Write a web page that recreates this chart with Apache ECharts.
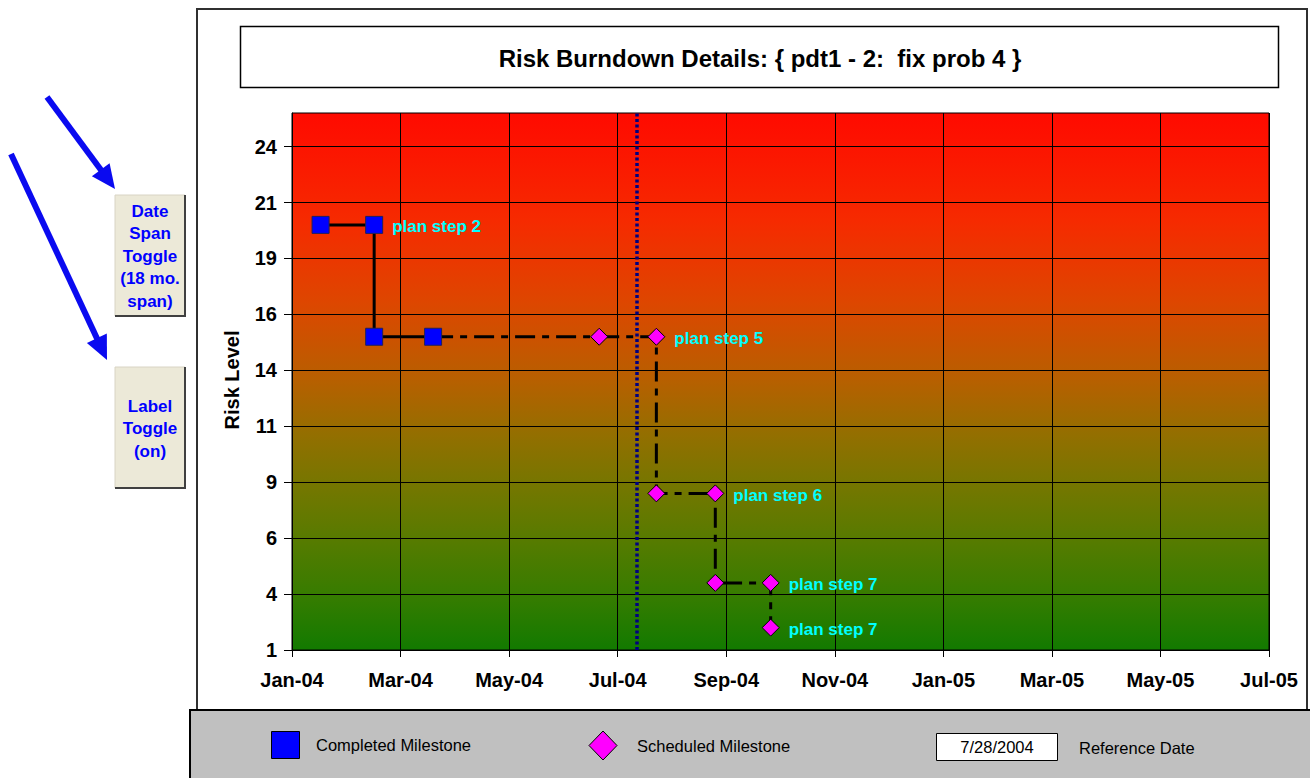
<!DOCTYPE html>
<html><head><meta charset="utf-8">
<script src="https://cdn.jsdelivr.net/npm/echarts@6/dist/echarts.min.js"></script>
<style>html,body{margin:0;padding:0;background:#fff;}#c{width:1310px;height:778px;}</style>
</head><body><div id="c"></div>
<script>
// ---------- data ----------
const completedDates  = ['2004-01-17','2004-02-16','2004-02-16','2004-03-20'];
const completedValues = [20, 20, 15, 15];
const completedLabels = ['', 'plan step 2', '', ''];

const linkDates  = ['2004-03-20','2004-06-21'];
const linkValues = [15, 15];

const scheduledDates  = ['2004-06-21','2004-07-23','2004-07-23','2004-08-25','2004-08-25','2004-09-25','2004-09-25'];
const scheduledValues = [15, 15, 8, 8, 4, 4, 2];
const scheduledLabels = ['', 'plan step 5', '', 'plan step 6', '', 'plan step 7', 'plan step 7'];

const referenceLineDate = '2004-07-12';
const referenceDateText = '7/28/2004';

const xStart = '2004-01-01', xEnd = '2005-07-01';
const xTickLabels = ['Jan-04','Mar-04','May-04','Jul-04','Sep-04','Nov-04','Jan-05','Mar-05','May-05','Jul-05'];

const yMin = 1, yMax = 25;
const yTickValues = [1, 3.5, 6, 8.5, 11, 13.5, 16, 18.5, 21, 23.5];
const yTickLabels = ['1','4','6','9','11','14','16','19','21','24'];

const titleText = 'Risk Burndown Details: { pdt1 - 2:  fix prob 4 }';
const yAxisTitle = 'Risk Level';
const button1Lines = ['Date','Span','Toggle','(18 mo.','span)'];
const button2Lines = ['Label','Toggle','(on)'];
const legendCompleted = 'Completed Milestone';
const legendScheduled = 'Scheduled Milestone';
const legendRefDate = 'Reference Date';

// ---------- helpers ----------
const ts = s => Date.parse(s + 'T00:00:00Z');
const t0 = ts(xStart), t1 = ts(xEnd);
const nX = xTickLabels.length - 1;
const xTickValues = xTickLabels.map((_, i) => t0 + (i * (t1 - t0)) / nX);
const pairs = (d, v) => d.map((s, i) => [ts(s), v[i]]);
const FONT = '"Liberation Sans", Arial, sans-serif';
const NARROW = '"Liberation Sans Narrow", "Arial Narrow", "Liberation Sans", sans-serif';

function nearestIdx(arr, v) {
  let b = 0, bd = Infinity;
  arr.forEach((a, i) => { const d = Math.abs(a - v); if (d < bd) { bd = d; b = i; } });
  return b;
}

function arrow(x0, y0, x1, y1, color) {
  const dx = x1 - x0, dy = y1 - y0, L = Math.hypot(dx, dy);
  const ux = dx / L, uy = dy / L, px = -uy, py = ux;
  const hl = 24, hw = 11;
  const bx = x1 - ux * hl, by = y1 - uy * hl;
  return [
    { type: 'line', shape: { x1: x0, y1: y0, x2: bx + ux * 2, y2: by + uy * 2 }, style: { stroke: color, lineWidth: 6 } },
    { type: 'polygon', shape: { points: [[x1, y1], [bx + px * hw, by + py * hw], [bx - px * hw, by - py * hw]] }, style: { fill: color } }
  ];
}

function button(x, y, w, h, lines, firstY, lh) {
  const els = [
    { type: 'rect', shape: { x: x, y: y, width: w, height: h }, style: { fill: '#ECE9D8', stroke: '#D8D4C4', lineWidth: 1 } },
    { type: 'polyline', shape: { points: [[x + w, y], [x + w, y + h], [x, y + h]] }, style: { stroke: '#404040', lineWidth: 2, fill: null } }
  ];
  lines.forEach((t, i) => els.push({
    type: 'text', x: x + w / 2, y: firstY + i * lh,
    style: { text: t, fill: '#0000FF', font: 'bold 17px ' + FONT, align: 'center', verticalAlign: 'middle' }
  }));
  return els;
}

const bgGradient = new echarts.graphic.LinearGradient(0, 0, 0, 1, [
  { offset: 0,    color: '#FF0A00' },
  { offset: 0.2,  color: '#F62A00' },
  { offset: 0.35, color: '#DE4600' },
  { offset: 0.5,  color: '#B66000' },
  { offset: 0.6,  color: '#936F00' },
  { offset: 0.7,  color: '#737700' },
  { offset: 0.8,  color: '#557B00' },
  { offset: 0.9,  color: '#367C00' },
  { offset: 1,    color: '#127A00' }
]);

const labelStyle = {
  show: true, position: 'right', distance: 9, offset: [0, 2], color: '#00FFFF',
  fontWeight: 'bold', fontSize: 17, fontFamily: FONT
};

const graphics = [
  // outer chart box
  { type: 'rect', z: -5, shape: { x: 197, y: 9, width: 1110, height: 702 }, style: { fill: null, stroke: '#303030', lineWidth: 2 } },
  // title box
  { type: 'rect', shape: { x: 240.5, y: 26.5, width: 1038, height: 61 }, style: { fill: '#fff', stroke: '#000', lineWidth: 1.5 } },
  { type: 'text', x: 760, y: 58, style: { text: titleText, fill: '#000', font: 'bold 24px ' + FONT, align: 'center', verticalAlign: 'middle' } },
  // y axis title
  { type: 'text', x: 232, y: 380, rotation: Math.PI / 2, style: { text: yAxisTitle, fill: '#000', font: 'bold 20px ' + FONT, align: 'center', verticalAlign: 'middle' } },
  // arrows
  ...arrow(47, 97, 115, 189, '#0A0AF0'),
  ...arrow(11, 154, 107, 360, '#0A0AF0'),
  // buttons
  ...button(115, 195, 70, 121, button1Lines, 211, 22.5),
  ...button(115, 367, 70, 121, button2Lines, 406, 22.5),
  // legend panel
  { type: 'rect', shape: { x: 190, y: 710, width: 1125, height: 75 }, style: { fill: '#C0C0C0', stroke: '#000', lineWidth: 2 } },
  { type: 'rect', shape: { x: 271.5, y: 731.5, width: 28, height: 27 }, style: { fill: '#0000FF', stroke: '#000', lineWidth: 1 } },
  { type: 'text', x: 316, y: 745, style: { text: legendCompleted, fill: '#000', font: '16.5px ' + NARROW, align: 'left', verticalAlign: 'middle' } },
  { type: 'polygon', shape: { points: [[603, 731], [617, 745.5], [603, 760], [589, 745.5]] }, style: { fill: '#FF00FF', stroke: '#000', lineWidth: 1 } },
  { type: 'text', x: 637, y: 746, style: { text: legendScheduled, fill: '#000', font: '16.5px ' + NARROW, align: 'left', verticalAlign: 'middle' } },
  { type: 'rect', shape: { x: 936.5, y: 733.5, width: 121, height: 27 }, style: { fill: '#fff', stroke: '#000', lineWidth: 1 } },
  { type: 'text', x: 997, y: 747, style: { text: referenceDateText, fill: '#000', font: '16.5px ' + NARROW, align: 'center', verticalAlign: 'middle' } },
  { type: 'text', x: 1079, y: 748, style: { text: legendRefDate, fill: '#000', font: '16.5px ' + NARROW, align: 'left', verticalAlign: 'middle' } }
];

const chart = echarts.init(document.getElementById('c'), null, { renderer: 'svg' });
chart.setOption({
  animation: false,
  backgroundColor: '#fff',
  grid: {
    left: 292, top: 113, width: 977, height: 537,
    show: true, backgroundColor: bgGradient, borderColor: '#000', borderWidth: 1
  },
  xAxis: {
    type: 'value', min: t0, max: t1,
    axisLine: { show: true, onZero: false, lineStyle: { color: '#000', width: 1 } },
    axisTick: { show: true, length: 7, customValues: xTickValues, lineStyle: { color: '#000' } },
    axisLabel: {
      customValues: xTickValues, margin: 20, color: '#000', fontWeight: 'bold', fontSize: 20, fontFamily: FONT,
      formatter: v => xTickLabels[nearestIdx(xTickValues, v)]
    },
    splitLine: { show: true, lineStyle: { color: '#000', width: 1 } }
  },
  yAxis: {
    type: 'value', min: yMin, max: yMax,
    axisLine: { show: true, onZero: false, lineStyle: { color: '#000', width: 1 } },
    axisTick: { show: true, length: 8, customValues: yTickValues, lineStyle: { color: '#000' } },
    axisLabel: {
      customValues: yTickValues, margin: 15, color: '#000', fontWeight: 'bold', fontSize: 20, fontFamily: FONT,
      formatter: v => yTickLabels[nearestIdx(yTickValues, v)]
    },
    splitLine: { show: true, lineStyle: { color: '#000', width: 1 } }
  },
  graphic: graphics,
  series: [
    {
      name: 'link', type: 'line', data: pairs(linkDates, linkValues), symbol: 'none', z: 2,
      lineStyle: { color: '#000', width: 3, type: [20, 7, 7, 7] },
      markLine: {
        silent: true, symbol: ['none', 'none'], label: { show: false },
        lineStyle: { color: '#000080', width: 3.5, type: [3, 2.5] },
        data: [{ xAxis: ts(referenceLineDate) }]
      }
    },
    {
      name: 'Completed Milestone', type: 'line', data: pairs(completedDates, completedValues), z: 3,
      symbol: 'rect', symbolSize: 17,
      itemStyle: { color: '#0000FF', borderColor: '#20205A', borderWidth: 1 },
      lineStyle: { color: '#000', width: 3 },
      label: Object.assign({}, labelStyle, { formatter: p => completedLabels[p.dataIndex] })
    },
    {
      name: 'Scheduled Milestone', type: 'line', data: pairs(scheduledDates, scheduledValues), z: 3,
      symbol: 'diamond', symbolSize: 17,
      itemStyle: { color: '#FF00FF', borderColor: '#000', borderWidth: 1 },
      lineStyle: { color: '#000', width: 3, type: [20, 7, 7, 7] },
      label: Object.assign({}, labelStyle, { formatter: p => scheduledLabels[p.dataIndex] })
    }
  ]
});
</script></body></html>
